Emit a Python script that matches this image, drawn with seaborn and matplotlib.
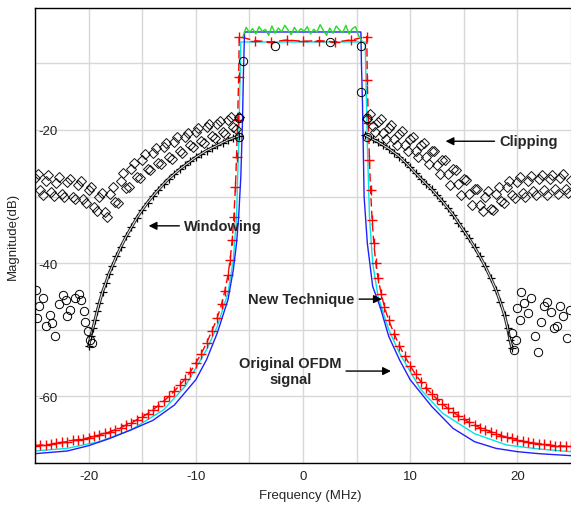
#!/usr/bin/env python3
"""
plot.py
Out-of-band spectrum of an OFDM signal: original vs clipping, windowing
and the new technique. Saves out.png (571x510).
"""

import matplotlib; matplotlib.use("Agg")
import matplotlib.pyplot as plt
import seaborn as sns

# ---- data -----------------------------------------------------------------
orig_freq = [-25, -22, -20, -18, -16, -14, -12, -10, -9, -8, -7, -6.5, -6.2, -6.0, -5.8,
             -5.65, -5.55, -5.45, 5.4, 5.45, 5.55, 5.7, 6.0, 6.5, 7.2, 8, 9, 10, 12, 14,
             16, 18, 20, 22, 25]
orig_db = [-68.6, -68.2, -67.4, -66.3, -65.0, -63.6, -61.3, -57.5, -54.5, -50.5, -45.5,
           -41.0, -37.0, -33.0, -27.0, -19.0, -11.0, -5.3, -5.3, -10.0, -16.0, -30.0,
           -37.0, -43.5, -46.6, -51.0, -54.5, -57.5, -61.5, -64.8, -66.8, -67.8, -68.3,
           -68.6, -68.9]

newtech_freq = [-25, -24.5, -24, -23.5, -23, -22.5, -22, -21.5, -21, -20.5, -20, -19.5, -19,
                -18.5, -18, -17.5, -17, -16.5, -16, -15.5, -15, -14.5, -14, -13.5, -13,
                -12.5, -12, -11.5, -11, -10.5, -10, -9.5, -9, -8.5, -8, -7.6, -7.3, -7.0,
                -6.8, -6.6, -6.45, -6.3, -6.2, -6.1, -6.0, -5.95,
                -4.5, -3.0, -1.5, 0.0, 1.5, 3.0, 4.5,
                5.95, 6.0, 6.1, 6.2, 6.3, 6.45, 6.6, 6.8, 7.0, 7.3, 7.6, 8.0, 8.5, 9.0,
                9.5, 10, 10.5, 11, 11.5, 12, 12.5, 13, 13.5, 14, 14.5, 15, 15.5, 16, 16.5,
                17, 17.5, 18, 18.5, 19, 19.5, 20, 20.5, 21, 21.5, 22, 22.5, 23, 23.5, 24,
                24.5, 25]
newtech_db = [-67.4, -67.3, -67.3, -67.2, -67.0, -66.9, -66.8, -66.6, -66.5, -66.4, -66.2,
              -66.0, -65.8, -65.5, -65.3, -65.0, -64.7, -64.3, -64.0, -63.5, -63.1, -62.6,
              -62.0, -61.4, -60.7, -60.0, -59.2, -58.3, -57.4, -56.3, -55.0, -53.6, -52.0,
              -50.2, -48.2, -46.2, -44.2, -41.8, -39.5, -36.5, -33.0, -28.5, -24.0, -18.5,
              -12.0, -6.0,
              -6.6, -6.8, -6.5, -6.7, -6.6, -6.8, -6.5,
              -6.0, -12.5, -19.0, -24.5, -29.0, -33.5, -37.0, -40.0, -42.3, -44.6, -46.6,
              -48.6, -50.6, -52.4, -54.0, -55.4, -56.7, -57.8, -58.8, -59.6, -60.4, -61.1,
              -61.8, -62.4, -62.9, -63.4, -63.9, -64.3, -64.7, -65.0, -65.3, -65.6, -65.9,
              -66.1, -66.3, -66.5, -66.7, -66.9, -67.0, -67.1, -67.2, -67.3, -67.4, -67.4,
              -67.5, -67.5]

cyan_freq = [-25, -22, -19, -16, -13, -11, -9, -8, -7, -6.5, -6.2, -6.0, -5.8,
             5.8, 6.0, 6.2, 6.5, 7, 8, 9, 11, 13, 16, 19, 22, 25]
cyan_db = [-68.2, -67.8, -66.8, -65.0, -62.0, -58.5, -53.0, -49.5, -44.5, -39.5, -33.0,
           -22.0, -6.8, -6.8, -22.0, -33.0, -40.0, -45.0, -50.0, -53.5, -59.0, -62.5,
           -65.6, -67.3, -67.9, -68.3]

ripple_freq = [-5.6, -5.3, -5.0, -4.7, -4.4, -4.1, -3.8, -3.5, -3.2, -2.9, -2.6, -2.3, -2.0,
               -1.7, -1.4, -1.1, -0.8, -0.5, -0.2, 0.1, 0.4, 0.7, 1.0, 1.3, 1.6, 1.9, 2.2,
               2.5, 2.8, 3.1, 3.4, 3.7, 4.0, 4.3, 4.6, 4.9, 5.2, 5.5]
ripple_db = [-6.0, -4.6, -5.4, -4.8, -5.6, -4.5, -5.2, -4.9, -5.8, -4.4, -5.5, -4.7, -5.3,
             -4.3, -5.0, -5.7, -4.6, -5.4, -4.8, -5.2, -4.5, -5.6, -4.9, -5.3, -4.2, -5.1,
             -5.8, -4.7, -5.5, -4.4, -5.0, -5.4, -4.3, -5.6, -4.8, -4.5, -5.9, -6.6]

clip_freq = [-25.0, -24.5, -24.0, -23.5, -23.0, -22.5, -22.0, -21.5, -21.0, -20.5, -20.0,
             -19.5, -19.0, -18.5, -18.0, -17.5, -17.0, -16.5, -16.0, -15.5, -15.0, -14.5,
             -14.0, -13.5, -13.0, -12.5, -12.0, -11.5, -11.0, -10.5, -10.0, -9.5, -9.0,
             -8.5, -8.0, -7.5, -7.0, -6.5, -6.0,
             6.0, 6.5, 7.0, 7.5, 8.0, 8.5, 9.0, 9.5, 10.0, 10.5, 11.0, 11.5, 12.0, 12.5,
             13.0, 13.5, 14.0, 14.5, 15.0, 15.5, 16.0, 16.5, 17.0, 17.5, 18.0, 18.5, 19.0,
             19.5, 20.0, 20.5, 21.0, 21.5, 22.0, 22.5, 23.0, 23.5, 24.0, 24.5, 25.0]
clip_db = [-27.2, -29.0, -27.6, -29.3, -27.9, -29.6, -27.8, -30.0, -28.2, -30.4, -29.0,
           -31.6, -30.0, -32.3, -29.6, -30.8, -27.6, -28.7, -25.8, -27.1, -24.5, -25.9,
           -23.4, -24.9, -22.6, -24.0, -21.8, -23.1, -21.0, -22.3, -20.3, -21.6, -19.6,
           -20.9, -19.1, -20.3, -18.5, -19.6, -18.0,
           -18.3, -19.4, -18.8, -20.4, -19.7, -21.3, -20.6, -22.2, -21.4, -23.1, -22.3,
           -24.1, -23.2, -25.2, -24.5, -26.6, -25.9, -28.1, -27.4, -29.6, -28.8, -31.2,
           -30.0, -31.8, -29.6, -30.6, -28.5, -29.8, -27.8, -29.4, -27.6, -29.2, -27.4,
           -29.0, -27.3, -28.9, -27.2, -28.8, -27.5]

# second pass of clipping points, in between the first
clip2_freq = [-24.75, -24.25, -23.75, -23.25, -22.75, -22.25, -21.75, -21.25, -20.75, -20.25,
              -19.75, -19.25, -18.75, -18.25, -17.75, -17.25, -16.75, -16.25, -15.75, -15.25,
              -14.75, -14.25, -13.75, -13.25, -12.75, -12.25, -11.75, -11.25, -10.75, -10.25,
              -9.75, -9.25, -8.75, -8.25, -7.75, -7.25, -6.75, -6.25,
              6.25, 6.75, 7.25, 7.75, 8.25, 8.75, 9.25, 9.75, 10.25, 10.75, 11.25, 11.75,
              12.25, 12.75, 13.25, 13.75, 14.25, 14.75, 15.25, 15.75, 16.25, 16.75, 17.25,
              17.75, 18.25, 18.75, 19.25, 19.75, 20.25, 20.75, 21.25, 21.75, 22.25, 22.75,
              23.25, 23.75, 24.25, 24.75]
clip2_db = [-26.6, -29.8, -26.8, -29.9, -27.0, -30.1, -27.3, -30.4, -27.7, -31.0,
            -28.6, -32.2, -29.4, -33.0, -28.5, -31.0, -26.5, -28.6, -24.9, -27.2,
            -23.6, -26.0, -22.7, -25.1, -21.9, -24.3, -21.1, -23.4, -20.4, -22.6,
            -19.7, -21.9, -19.1, -21.2, -18.6, -20.6, -18.0, -19.9,
            -17.6, -20.3, -18.3, -21.3, -19.2, -22.2, -20.1, -23.1, -21.0, -24.1, -22.0,
            -25.1, -23.1, -26.6, -24.5, -28.2, -26.0, -29.7, -27.5, -31.3, -28.8, -32.2,
            -29.2, -32.0, -28.5, -31.0, -27.6, -30.2, -27.0, -30.0, -26.9, -29.8, -26.8,
            -29.7, -26.7, -29.6, -26.6, -29.5]

win_freq = [-20.0, -19.8, -19.6, -19.4, -19.2, -19.0, -18.7, -18.4, -18.1, -17.8, -17.4,
            -17.0, -16.5, -16.0, -15.5, -15.0, -14.5, -14.0, -13.5, -13.0, -12.5, -12.0,
            -11.5, -11.0, -10.5, -10.0, -9.5, -9.0, -8.5, -8.0, -7.5, -7.0, -6.5, -6.0,
            5.8, 6.5, 7.0, 7.5, 8.0, 8.5, 9.0, 9.5, 10.0, 10.5, 11.0, 11.5, 12.0, 12.5,
            13.0, 13.5, 14.0, 14.5, 15.0, 15.5, 16.0, 16.5, 17.0, 17.5, 18.0, 18.4, 18.8,
            19.1, 19.3, 19.5]
win_db = [-52.5, -51.0, -49.8, -48.5, -47.2, -46.0, -44.3, -43.0, -41.6, -40.5, -39.0,
          -37.6, -36.0, -34.6, -33.2, -32.0, -30.9, -29.9, -29.0, -28.1, -27.3, -26.6,
          -25.9, -25.3, -24.7, -24.1, -23.6, -23.1, -22.7, -22.3, -21.9, -21.5, -21.2,
          -20.9,
          -20.8, -21.4, -21.8, -22.3, -22.8, -23.4, -24.0, -24.8, -25.6, -26.5, -27.3,
          -28.1, -28.9, -29.8, -30.7, -31.7, -32.7, -33.9, -35.1, -36.3, -37.6, -39.0,
          -40.5, -42.2, -44.0, -45.8, -47.8, -49.8, -51.5, -52.8]
win_side = ["L"] * 34 + ["R"] * 30

# scattered circles where the windowed spectrum hits the floor, plus edge markers
circ_freq = [-24.9, -24.8, -24.6, -24.3, -24.0, -23.6, -23.4, -23.1, -22.8, -22.4, -22.1,
             -22.0, -21.7, -21.3, -20.9, -20.7, -20.4, -20.3, -20.1, -19.9, -19.7,
             19.5, 19.7, 19.9, 20.0, 20.2, 20.3, 20.6, 21.0, 21.3, 21.6, 21.9, 22.2, 22.5,
             22.8, 23.1, 23.4, 23.7, 24.0, 24.3, 24.6, 24.9,
             -5.6, -2.6, 2.5, 5.4, 5.4, -6.0, -6.0, 6.0, 6.0]
circ_db = [-44.0, -48.2, -46.5, -45.2, -49.5, -47.8, -49.0, -51.0, -46.2, -44.8, -45.6,
           -48.0, -47.0, -45.3, -44.6, -45.5, -47.2, -48.9, -50.2, -51.5, -52.0,
           -50.5, -53.0, -51.6, -46.8, -48.5, -44.4, -46.0, -47.5, -45.2, -51.0, -53.4,
           -48.8, -46.5, -45.8, -47.4, -49.8, -49.5, -46.4, -48.0, -51.2, -47.0,
           -9.6, -7.4, -6.8, -14.3, -7.4, -18.2, -21.0, -18.2, -21.0]

# ---- plot ---------------------------------------------------------------------
sns.set_style("whitegrid")
plt.rcParams["font.family"] = ["Liberation Sans", "DejaVu Sans"]
plt.rcParams["axes.unicode_minus"] = False

fig = plt.figure(figsize=(5.71, 5.10), dpi=100)
ax = fig.add_axes([35 / 571, 46 / 510, 536 / 571, 455 / 510])

sns.lineplot(x=cyan_freq, y=cyan_db, ax=ax, sort=False, estimator=None,
             color="#00e5e5", lw=1.0)
sns.lineplot(x=newtech_freq, y=newtech_db, ax=ax, sort=False, estimator=None,
             color="red", lw=1.0, linestyle=(0, (6, 3)), marker="+", markersize=7,
             markeredgewidth=1.0, markeredgecolor="red")
sns.lineplot(x=orig_freq, y=orig_db, ax=ax, sort=False, estimator=None,
             color="#2020ff", lw=1.0)
sns.lineplot(x=ripple_freq, y=ripple_db, ax=ax, sort=False, estimator=None,
             color="#22dd22", lw=1.0)

for fx, fy in [(clip_freq, clip_db), (clip2_freq, clip2_db)]:
    sns.lineplot(x=fx, y=fy, ax=ax, sort=False, estimator=None, linestyle="",
                 marker="D", markersize=5, markerfacecolor="none",
                 markeredgecolor="#111111", markeredgewidth=0.7)
for side in ["L", "R"]:
    wx = [f for f, s in zip(win_freq, win_side) if s == side]
    wy = [d for d, s in zip(win_db, win_side) if s == side]
    sns.lineplot(x=wx, y=wy, ax=ax, sort=False, estimator=None, color="#333333",
                 lw=2.2, marker="+", markersize=6, markeredgecolor="black",
                 markeredgewidth=0.9)
    sns.lineplot(x=wx, y=wy, ax=ax, sort=False, estimator=None, color="white", lw=0.6)
sns.lineplot(x=circ_freq, y=circ_db, ax=ax, sort=False, estimator=None, linestyle="",
             marker="o", markersize=6, markerfacecolor="none", markeredgecolor="black",
             markeredgewidth=0.7)

ax.set_xlim(-25, 25)
ax.set_ylim(-70, -1.7)
ax.set_xticks([-20, -10, 0, 10, 20])
ax.set_xticks(range(-25, 26, 5), minor=True)
ax.set_yticks([-60, -40, -20])
ax.set_yticks(range(-70, 0, 10), minor=True)
ax.grid(which="both", color="#d8d8d8", lw=1.0)
ax.tick_params(which="both", length=0, labelsize=9.5, colors="#222222")
ax.tick_params(axis="y", pad=-16)
ax.tick_params(axis="x", pad=5)

for s in ["left", "bottom", "top"]:
    ax.spines[s].set_color("black")
    ax.spines[s].set_linewidth(1.0)
ax.spines["right"].set_visible(False)

ax.set_xlabel("Frequency (MHz)", fontsize=9.5)
ax.set_ylabel("Magnitude(dB)", fontsize=9.5)
ax.xaxis.set_label_coords(0.513, -0.058)
ax.yaxis.set_label_coords(-0.03, 0.5)

arrow = dict(arrowstyle="-|>", color="black", lw=1.0, mutation_scale=12, shrinkA=1, shrinkB=0)
bold = dict(fontsize=10.5, fontweight="bold", va="center")
ax.annotate("Clipping", xy=(13.3, -21.7), xytext=(18.3, -21.7), ha="left",
            arrowprops=arrow, **bold)
ax.annotate("Windowing", xy=(-14.4, -34.4), xytext=(-11.1, -34.4), ha="left",
            arrowprops=arrow, **bold)
ax.annotate("New Technique", xy=(7.35, -45.4), xytext=(4.8, -45.4), ha="right",
            arrowprops=arrow, **bold)
ax.annotate("Original OFDM\nsignal", xy=(8.2, -56.2), xytext=(-1.2, -56.2), ha="center",
            multialignment="center", arrowprops=arrow, **bold)

plt.savefig("out.png", dpi=100)
plt.close()
